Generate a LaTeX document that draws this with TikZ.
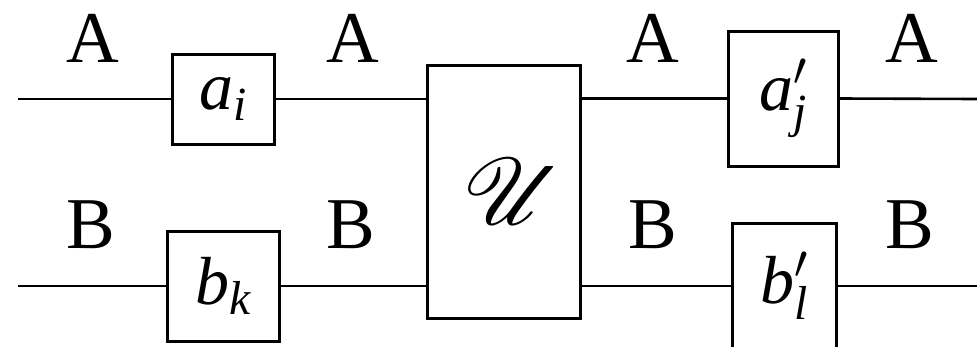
\RequirePackage{fix-cm}
\documentclass[tikz,border=0pt]{standalone}
\usepackage{fontspec}
\setmainfont{Liberation Serif}
\DeclareFontFamily{U}{myrsfs}{\skewchar\font'177}
\DeclareFontShape{U}{myrsfs}{m}{n}{<-> rsfs10}{}
\newcommand\scrU{{\usefont{U}{myrsfs}{m}{n}U}}
\tikzset{
  wire/.style={line width=2.6pt},
  gate/.style={draw, line width=3pt, inner sep=0pt, fill=white, font=\fontsize{68}{80}\selectfont},
  lbl/.style={anchor=base, inner sep=0pt, font=\fontsize{73}{80}\selectfont}
}
\begin{document}
\begin{tikzpicture}[x=1pt,y=-1pt]
\useasboundingbox (0,0) rectangle (977,346);
% gates
\node[gate, minimum width=102pt, minimum height=90pt] (ai) at (223,99) {$\mathit{a}_{\mathit{i}}$};
\node[gate, minimum width=112pt, minimum height=110pt] (bk) at (223,286) {$\mathit{b}_{\mathit{k}}$};
\node[gate, minimum width=153pt, minimum height=253pt, font=\fontsize{94}{100}\selectfont] (uu) at (503.5,191.5) {\hspace*{-4pt}\scrU};
\node[gate, minimum width=110pt, minimum height=135pt] (aj) at (783,98.5) {$\mathit{a}'_{\mathit{j}}$};
\node[gate, minimum width=104pt, minimum height=126pt] (bl) at (784,286) {$\mathit{b}'_{\mathit{l}}$};
% wire ends
\coordinate (sa) at (18,99);
\coordinate (sb) at (18,286);
\coordinate (ea) at (977,99);
\coordinate (eb) at (977,286);
% wires
\draw[wire] (sa) -- (ai.west);
\draw[wire] (ai.east) -- (uu.west |- ai.east);
\draw[wire] (uu.east |- aj.west) -- (aj.west);
\draw[wire] (aj.east) -- (ea);
\draw[wire] (sb) -- (bk.west);
\draw[wire] (bk.east) -- (uu.west |- bk.east);
\draw[wire] (uu.east |- bl.west) -- (bl.west);
\draw[wire] (bl.east) -- (eb);
% labels
\node[lbl] (la1) at (93,62) {A};
\node[lbl] (la2) at (353,62) {A};
\node[lbl] (la3) at (653,62) {A};
\node[lbl] (la4) at (912,62) {A};
\node[lbl] (lb1) at (91,248) {B};
\node[lbl] (lb2) at (351,248) {B};
\node[lbl] (lb3) at (653,248) {B};
\node[lbl] (lb4) at (910,248) {B};
\end{tikzpicture}
\end{document}
